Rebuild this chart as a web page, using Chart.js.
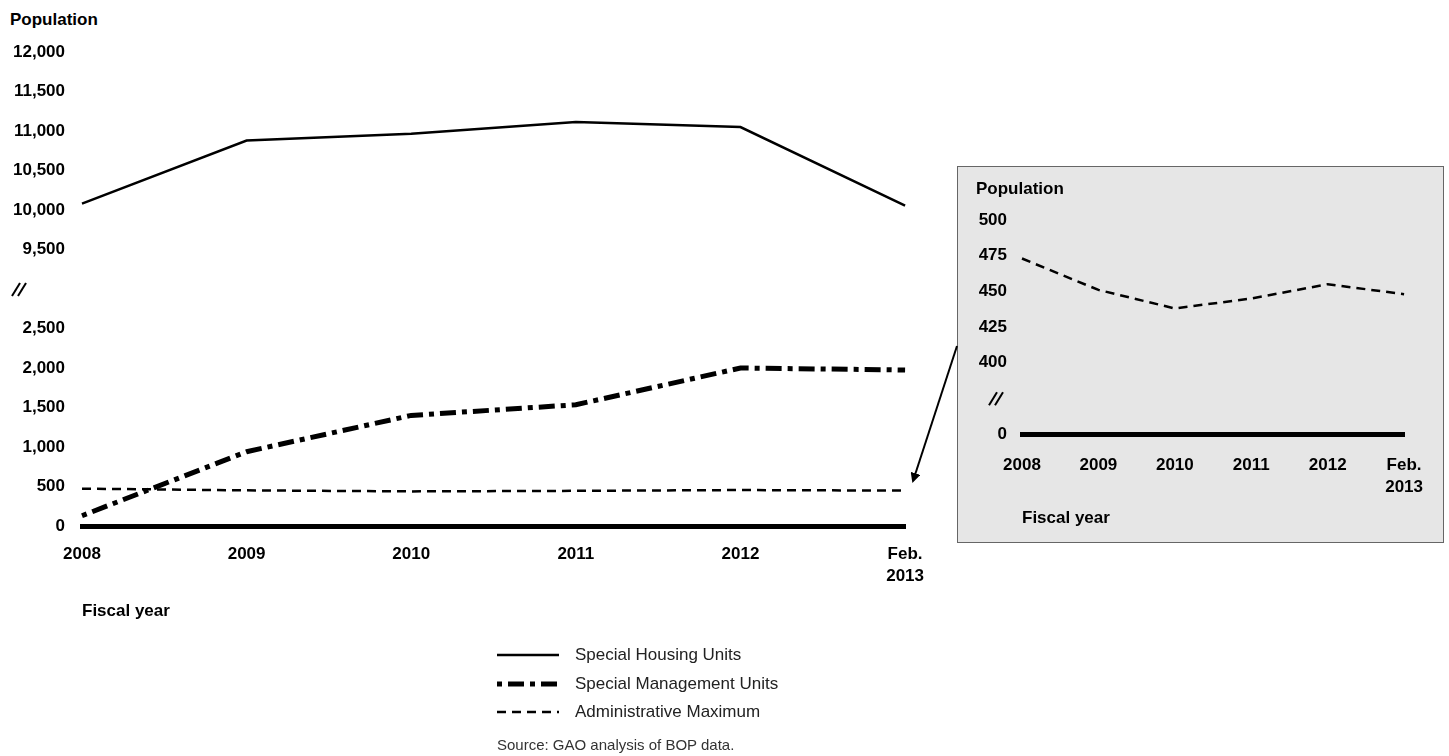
<!DOCTYPE html>
<html>
<head>
<meta charset="utf-8">
<script src="https://cdn.jsdelivr.net/npm/chart.js@4/dist/chart.umd.min.js"></script>
<style>
  body { margin: 0; background: #fff; font-family: 'Liberation Sans', Arial, sans-serif; }
  #page { position: relative; width: 1449px; height: 756px; overflow: hidden; }
  .lbl { position: absolute; font-weight: bold; font-size: 17px; color: #000; line-height: 20px; }
  #mainWrap { position: absolute; left: 0; top: 0; width: 941px; height: 626px; }
  #inset { position: absolute; left: 957px; top: 166px; width: 487px; height: 377px;
           background: #e6e6e6; border: 1.5px solid #666; box-sizing: border-box; }
  #insetWrap { position: absolute; left: 0; top: 0; width: 485px; height: 367px; }
  #legend { position: absolute; left: 497px; top: 641px; font-size: 17px; color: #222; }
  .row { height: 28.5px; display: flex; align-items: center; }
  .row svg { margin-right: 16px; }
  #source { position: absolute; left: 497px; top: 736px; font-size: 15px; color: #333; }
</style>
</head>
<body>
<div id="page">
  <div class="lbl" style="left:10px;top:10px;">Population</div>
  <div id="mainWrap"><canvas id="mainChart"></canvas></div>

  <div id="inset">
    <div id="insetWrap"><canvas id="insetChart"></canvas></div>
    <div class="lbl" style="left:18px;top:12px;">Population</div>
  </div>

  <svg width="1449" height="756" style="position:absolute;left:0;top:0;pointer-events:none;">
    <defs>
      <marker id="head" markerWidth="10" markerHeight="10" refX="8" refY="5" orient="auto" markerUnits="userSpaceOnUse">
        <path d="M0,0 L10,5 L0,10 z" fill="#000"/>
      </marker>
    </defs>
    <line x1="957" y1="346" x2="913" y2="481" stroke="#000" stroke-width="2" marker-end="url(#head)"/>
  </svg>

  <div id="legend">
    <div class="row"><svg width="62" height="8"><line x1="0" y1="4" x2="62" y2="4" stroke="#000" stroke-width="2.5"/></svg>Special Housing Units</div>
    <div class="row"><svg width="62" height="8"><line x1="0" y1="4" x2="62" y2="4" stroke="#000" stroke-width="5" stroke-dasharray="5 6 16 6"/></svg>Special Management Units</div>
    <div class="row"><svg width="62" height="8"><line x1="0" y1="4" x2="62" y2="4" stroke="#000" stroke-width="2.5" stroke-dasharray="9 6"/></svg>Administrative Maximum</div>
  </div>
  <div id="source">Source: GAO analysis of BOP data.</div>
</div>

<script>
const years = ['2008', '2009', '2010', '2011', '2012', ['Feb.', '2013']];
const housingUnits = [10080, 10880, 10965, 11115, 11050, 10055];
const managementUnits = [130, 940, 1400, 1535, 2000, 1975];
const adminMaximum = [473, 451, 438, 445, 455, 448];

const tickFont = { family: "'Liberation Sans', Arial, sans-serif", size: 17, weight: 'bold', lineHeight: 1.3 };
const fmt = v => Number(v).toLocaleString('en-US');

// draws the "//" axis break mark at the joint of the two stacked y axes
const breakMark = {
  id: 'breakMark',
  afterDraw(chart, args, opts) {
    const s = chart.scales[opts.scale];
    const ctx = chart.ctx;
    const y = s.bottom;
    ctx.save();
    ctx.strokeStyle = '#000';
    ctx.lineWidth = 2;
    [0, 6].forEach(dx => {
      ctx.beginPath();
      ctx.moveTo(opts.x + dx, y + 7);
      ctx.lineTo(opts.x + dx + 8, y - 6);
      ctx.stroke();
    });
    ctx.restore();
  }
};

function yAxis(min, max, step, weight, hide, width, pad) {
  return {
    type: 'linear', position: 'left', stack: 'pop', stackWeight: weight,
    min: min, max: max,
    grid: { display: false, drawTicks: false },
    border: { display: false },
    ticks: {
      stepSize: step, padding: pad, color: '#000', font: tickFont, autoSkip: false,
      callback: v => (hide.includes(v) ? '' : fmt(v))
    },
    afterFit: s => { s.width = width; }
  };
}

function xAxis(pad, titlePad) {
  return {
    grid: { display: false, drawTicks: false },
    border: { display: true, width: 5, color: '#000' },
    ticks: { padding: pad, color: '#000', font: tickFont, maxRotation: 0, autoSkip: false },
    title: { display: true, text: 'Fiscal year', align: 'start', color: '#000', font: tickFont, padding: { top: 0, bottom: titlePad } },
    afterFit: s => { s.height = 100; }
  };
}

// in a stack, the axis listed last sits on top
new Chart(document.getElementById('mainChart'), {
  type: 'line',
  data: {
    labels: years,
    datasets: [{
      label: 'Special Housing Units',
      data: housingUnits,
      yAxisID: 'yTop',
      borderColor: '#000', borderWidth: 2.5, pointRadius: 0, tension: 0
    }, {
      label: 'Special Management Units',
      data: managementUnits,
      yAxisID: 'yBottom',
      borderColor: '#000', borderWidth: 5, borderDash: [5, 6, 16, 6], pointRadius: 0, tension: 0
    }, {
      label: 'Administrative Maximum',
      data: adminMaximum,
      yAxisID: 'yBottom',
      borderColor: '#000', borderWidth: 2.5, borderDash: [9, 6], pointRadius: 0, tension: 0
    }]
  },
  options: {
    responsive: true, maintainAspectRatio: false, animation: false,
    layout: { padding: { top: 52, right: 25, left: 0, bottom: 0 } },
    plugins: { legend: { display: false }, tooltip: { enabled: false }, breakMark: { scale: 'yTop', x: 12 } },
    scales: {
      x: xAxis(17, 4),
      yBottom: yAxis(0, 3000, 500, 1, [3000], 82, 17),
      yTop: yAxis(9000, 12000, 500, 1, [9000], 82, 17)
    }
  },
  plugins: [breakMark]
});

new Chart(document.getElementById('insetChart'), {
  type: 'line',
  data: {
    labels: years,
    datasets: [{
      label: 'Administrative Maximum',
      data: adminMaximum,
      yAxisID: 'yTop',
      borderColor: '#000', borderWidth: 2.5, borderDash: [9, 6], pointRadius: 0, tension: 0
    }]
  },
  options: {
    responsive: true, maintainAspectRatio: false, animation: false,
    layout: { padding: { top: 53, right: 33, left: 0, bottom: 0 } },
    plugins: { legend: { display: false }, tooltip: { enabled: false }, breakMark: { scale: 'yTop', x: 31 } },
    scales: {
      x: xAxis(20, 5),
      yBottom: yAxis(0, 25, 25, 1, [25], 64, 15),
      yTop: yAxis(375, 500, 25, 5, [375], 64, 15)
    }
  },
  plugins: [breakMark]
});
</script>
</body>
</html>
